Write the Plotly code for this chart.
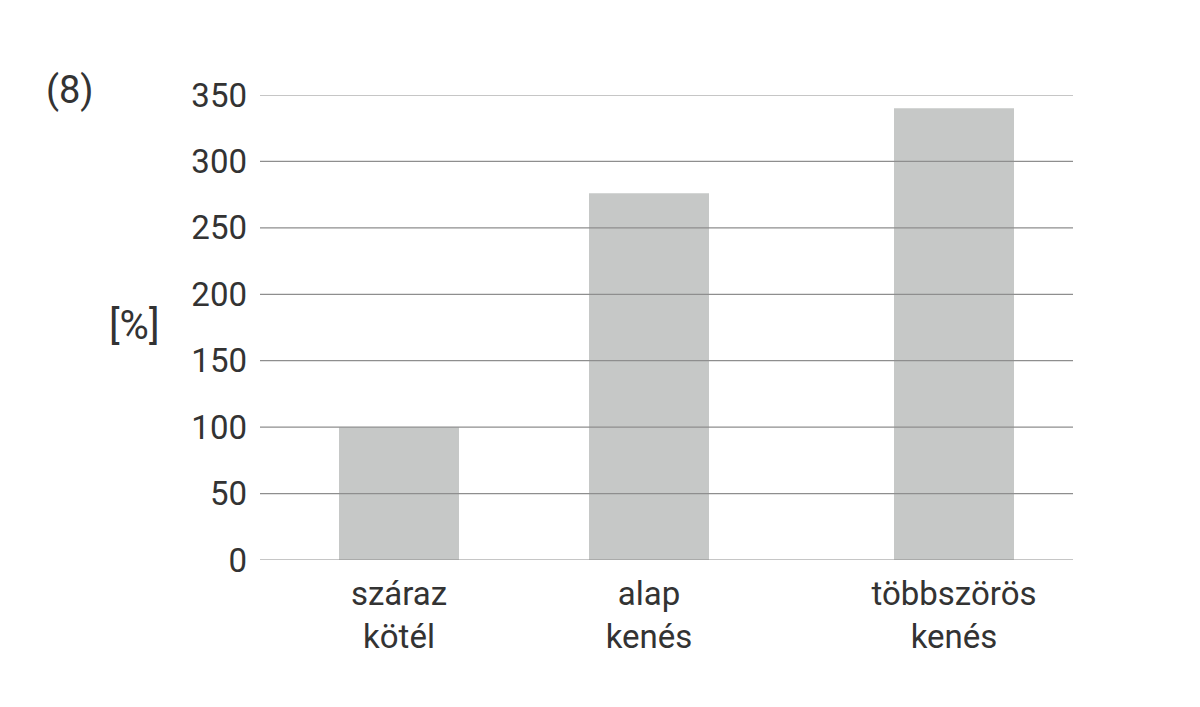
import plotly.graph_objects as go

# ---- data ----
categories = ["száraz<br>kötél", "alap<br>kenés", "többszörös<br>kenés"]
values = [100, 276, 340]
y_ticks = [0, 50, 100, 150, 200, 250, 300, 350]
y_label = "[%]"
panel_label = "(8)"

# ---- layout (slot positions of the categories on the x axis) ----
x_slots = [0, 1, 2.22]
bar_color = "#c6c8c7"
grid_color = "#8e8e8e"
text_color = "#333333"
font_family = "Roboto"

fig = go.Figure()
fig.add_trace(go.Bar(
    x=x_slots, y=values, width=0.48,
    marker=dict(color=bar_color, line=dict(width=0)),
    hoverinfo="skip",
))

for t in y_ticks:
    fig.add_shape(type="line", xref="paper", yref="y", x0=0, x1=1, y0=t, y1=t,
                  line=dict(color=grid_color, width=1.2), layer="above")

fig.add_annotation(text=panel_label, xref="paper", yref="paper",
                   x=-0.234, y=1.01, xanchor="center", yanchor="middle",
                   showarrow=False, font=dict(size=38, color=text_color, family=font_family))
fig.add_annotation(text=y_label, xref="paper", yref="paper",
                   x=-0.154, y=0.505, xanchor="center", yanchor="middle",
                   showarrow=False, font=dict(size=40, color=text_color, family=font_family))

fig.update_layout(
    width=1200, height=707,
    margin=dict(l=252, r=135, t=87, b=155),
    paper_bgcolor="white", plot_bgcolor="white",
    showlegend=False,
    font=dict(family=font_family, size=32, color=text_color),
    xaxis=dict(range=[-0.556, 2.696], tickvals=x_slots, ticktext=categories,
               showgrid=False, zeroline=False, showline=False, ticks="",
               ticklabelstandoff=11, fixedrange=True,
               tickfont=dict(size=33)),
    yaxis=dict(range=[0, 350], tickvals=y_ticks, showgrid=False, zeroline=False,
               showline=False, ticks="", ticklabelstandoff=12, fixedrange=True,
               tickfont=dict(size=33)),
)

fig.write_html("out.html")
